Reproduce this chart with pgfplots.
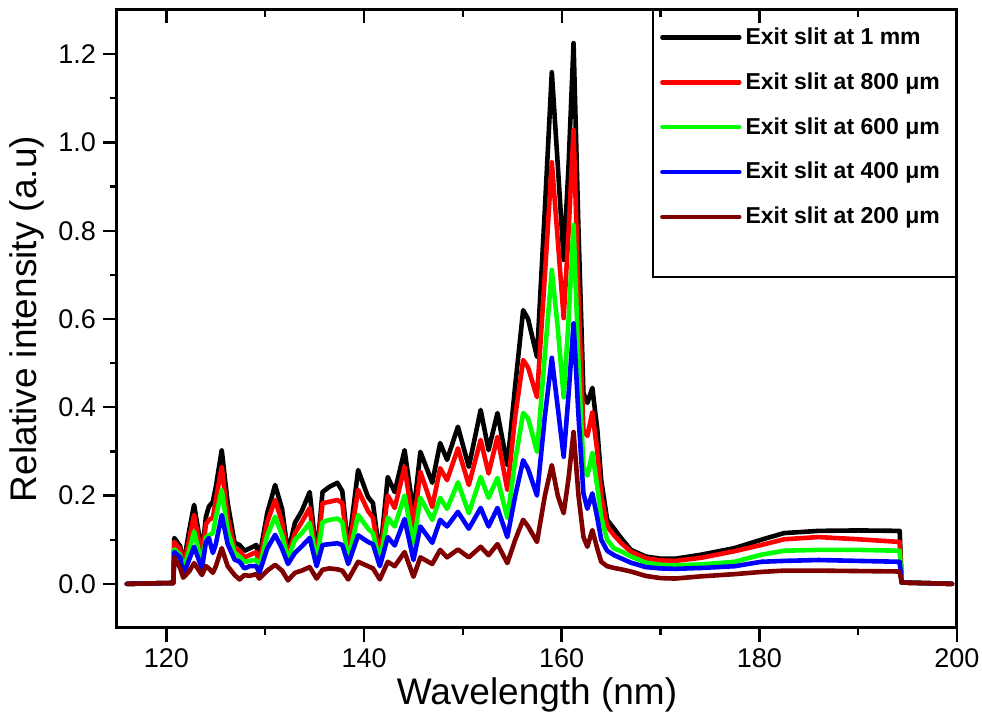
\documentclass[border=0pt]{standalone}
\usepackage{pgfplots}
\pgfplotsset{compat=1.18}
\usepackage{pgfplotstable}
\usepackage{fontspec}
\setmainfont{Liberation Sans}
\definecolor{cgreen}{RGB}{0,255,0}
\definecolor{cred}{RGB}{255,0,0}
\definecolor{cblue}{RGB}{0,0,255}
\definecolor{cbrown}{RGB}{128,0,0}
\pgfplotstableread{
x a b c d e
116.0 0 0 0 0 0
120.7 0.002 0.002 0.002 0.002 0.002
120.8 0.104 0.095 0.078 0.072 0.061
121.4 0.085 0.078 0.065 0.060 0.035
121.7 0.040 0.035 0.030 0.020 0.014
122.3 0.120 0.100 0.075 0.055 0.028
122.8 0.179 0.156 0.118 0.084 0.047
123.6 0.070 0.060 0.045 0.035 0.020
124.0 0.152 0.135 0.105 0.095 0.040
124.3 0.175 0.145 0.110 0.104 0.035
124.7 0.186 0.150 0.115 0.070 0.025
125.0 0.220 0.190 0.150 0.090 0.040
125.6 0.303 0.265 0.213 0.156 0.081
126.2 0.183 0.150 0.120 0.090 0.040
126.9 0.093 0.080 0.070 0.055 0.020
127.4 0.088 0.075 0.062 0.050 0.010
127.9 0.075 0.060 0.050 0.035 0.020
128.4 0.080 0.065 0.052 0.040 0.018
129.1 0.088 0.072 0.055 0.040 0.022
129.4 0.058 0.045 0.035 0.025 0.012
130.2 0.160 0.140 0.110 0.080 0.030
131.0 0.224 0.190 0.152 0.111 0.043
131.7 0.170 0.140 0.110 0.080 0.030
132.3 0.070 0.062 0.055 0.045 0.008
133.0 0.138 0.115 0.100 0.070 0.025
133.7 0.165 0.140 0.115 0.085 0.030
134.5 0.208 0.172 0.138 0.104 0.038
135.2 0.061 0.055 0.050 0.040 0.012
135.8 0.208 0.183 0.140 0.088 0.032
136.5 0.220 0.186 0.145 0.090 0.035
137.3 0.229 0.190 0.148 0.092 0.033
137.8 0.210 0.183 0.140 0.088 0.030
138.4 0.077 0.068 0.055 0.045 0.010
139.4 0.258 0.213 0.156 0.110 0.050
140.4 0.197 0.165 0.125 0.095 0.040
140.9 0.183 0.150 0.115 0.090 0.035
141.6 0.061 0.055 0.050 0.040 0.010
142.4 0.242 0.200 0.150 0.106 0.050
143.1 0.208 0.172 0.130 0.087 0.040
144.1 0.303 0.265 0.200 0.147 0.072
145.0 0.160 0.130 0.090 0.054 0.016
145.7 0.299 0.254 0.195 0.130 0.060
146.9 0.229 0.174 0.145 0.093 0.045
147.7 0.319 0.262 0.195 0.145 0.077
148.4 0.281 0.235 0.170 0.130 0.060
149.5 0.356 0.307 0.230 0.163 0.078
150.6 0.265 0.224 0.160 0.125 0.060
151.8 0.394 0.326 0.242 0.172 0.084
152.6 0.303 0.250 0.195 0.130 0.065
153.5 0.387 0.333 0.240 0.172 0.090
154.5 0.269 0.213 0.149 0.106 0.047
155.3 0.450 0.380 0.280 0.200 0.100
156.1 0.620 0.507 0.387 0.280 0.145
156.6 0.600 0.490 0.375 0.260 0.130
157.5 0.514 0.423 0.299 0.200 0.095
158.3 0.850 0.700 0.520 0.380 0.200
159.0 1.159 0.955 0.711 0.512 0.269
159.6 0.950 0.780 0.580 0.400 0.200
160.2 0.734 0.602 0.423 0.288 0.160
160.7 0.950 0.800 0.600 0.430 0.240
161.2 1.225 1.028 0.813 0.590 0.344
161.7 0.800 0.650 0.500 0.380 0.200
162.2 0.432 0.349 0.265 0.205 0.106
162.6 0.410 0.335 0.245 0.170 0.084
163.1 0.444 0.389 0.297 0.205 0.122
163.6 0.350 0.300 0.220 0.150 0.080
164.0 0.235 0.200 0.150 0.100 0.050
164.6 0.145 0.130 0.100 0.075 0.040
165.3 0.125 0.110 0.080 0.065 0.036
166.0 0.104 0.093 0.074 0.058 0.033
167.0 0.077 0.073 0.062 0.048 0.028
168.5 0.062 0.058 0.048 0.038 0.018
170.0 0.057 0.053 0.043 0.035 0.013
171.5 0.057 0.052 0.042 0.034 0.012
174.1 0.066 0.059 0.044 0.036 0.017
177.5 0.081 0.074 0.050 0.040 0.022
180.2 0.100 0.088 0.066 0.050 0.027
182.5 0.115 0.101 0.075 0.052 0.030
186.0 0.120 0.106 0.077 0.054 0.030
190.0 0.121 0.101 0.077 0.052 0.029
194.2 0.120 0.095 0.075 0.050 0.028
194.4 0.003 0.003 0.003 0.003 0.003
199.5 0.000 0.000 0.000 0.000 0.000
}\spectra
\begin{document}
\begin{tikzpicture}
\path[use as bounding box] (-58.5pt,-47.5pt) rectangle (432.5pt,314pt);
\begin{axis}[
  at={(0pt,0pt)}, anchor=south west,
  width=420pt, height=309pt, scale only axis,
  xmin=115, xmax=200, ymin=-0.1, ymax=1.3,
  xtick={120,140,160,180,200},
  ytick={0,0.2,0.4,0.6,0.8,1.0,1.2},
  minor x tick num=1, minor y tick num=1,
  xtick pos=bottom, ytick pos=left, tick align=outside,
  major tick length=7pt, minor tick length=3.5pt,
  every tick/.style={black, line width=1.2pt},
  axis line style={line width=1.5pt},
  /pgf/number format/assume math mode=true,
  yticklabel style={/pgf/number format/.cd, fixed, fixed zerofill, precision=1},
  tick label style={font=\fontsize{13.5}{16}\selectfont},
  label style={font=\fontsize{18.5}{22}\selectfont},
  xlabel={Wavelength (nm)},
  ylabel={Relative intensity (a.u)},
  xlabel style={yshift=2pt},
  legend cell align=left,
  legend style={draw=none, fill=none, at={(rel axis cs:0.639,0.985)}, anchor=north west,
    font=\bfseries\fontsize{11.5}{13.8}\selectfont, row sep=8.6pt},
  legend image code/.code={\draw[#1, line width=2.2pt] (0pt,0pt) -- (38.5pt,0pt);},
  every axis plot/.append style={line width=2.3pt, line join=round, line cap=round},
]
\addplot[black] table[x=x, y=a] {\spectra};
\addlegendentry{Exit slit at 1 mm}
\addplot[cred] table[x=x, y=b] {\spectra};
\addlegendentry{Exit slit at 800 μm}
\addplot[cgreen] table[x=x, y=c] {\spectra};
\addlegendentry{Exit slit at 600 μm}
\addplot[cblue] table[x=x, y=d] {\spectra};
\addlegendentry{Exit slit at 400 μm}
\addplot[cbrown] table[x=x, y=e] {\spectra};
\addlegendentry{Exit slit at 200 μm}
\draw[line width=0.8pt] (rel axis cs:0.638,0.568) rectangle (rel axis cs:1,1);
\end{axis}
\begin{axis}[
  at={(0pt,0pt)}, anchor=south west,
  width=420pt, height=309pt, scale only axis,
  xmin=115, xmax=200, ymin=-0.1, ymax=1.3,
  axis x line*=top, hide y axis,
  xtick={120,140,160,180,200}, minor x tick num=1, xticklabels={},
  tick align=inside,
  major tick length=6.5pt, minor tick length=3.5pt,
  every tick/.style={black, line width=1.2pt},
  axis line style={line width=1.5pt},
]
\end{axis}
\end{tikzpicture}
\end{document}
